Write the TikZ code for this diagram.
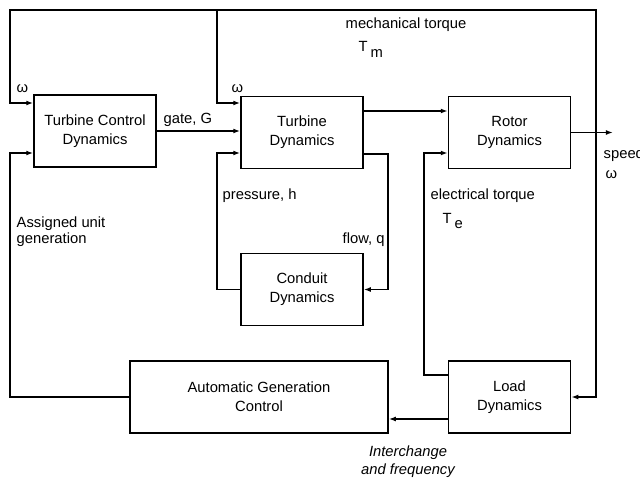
\documentclass[tikz,border=0pt]{standalone}
\usepackage{fontspec}
\setmainfont{Liberation Sans}
\usetikzlibrary{arrows.meta}

\begin{document}
\begin{tikzpicture}[x=0.025cm, y=-0.025cm, line width=1pt,
  font=\fontsize{10.5}{13.5}\selectfont,
  block/.style={draw, rectangle, align=center, minimum width=3.05cm, minimum height=1.8cm, inner sep=2pt},
  sig/.style={-{Latex[length=5pt,width=3.5pt]}},
  lbl/.style={draw=none, fill=none, anchor=base west, inner sep=0pt}]
		\useasboundingbox (0,0) rectangle (640,480);

		% blocks
		\node[block] (tcd) at (95,131) {Turbine Control\\Dynamics};
		\node[block] (td) at (302,132.5) {Turbine\\Dynamics};
		\node[block] (rd) at (509.5,132.5) {Rotor\\Dynamics};
		\node[block] (cd) at (302,289.5) {Conduit\\Dynamics};
		\node[block, minimum width=6.45cm] (agc) at (259,397) {Automatic Generation\\Control};
		\node[block] (ld) at (509.5,397) {Load\\Dynamics};

		% corners
		\coordinate (sp) at (596,132.5);
		\coordinate (spd) at (613,132.5);
		\coordinate (tl) at (10,10);
		\coordinate (tr) at (596,10);
		\coordinate (tm) at (217,10);
		\coordinate (ph) at (217,153);
		\coordinate (fq) at (388,154);
		\coordinate (et) at (424,153);
		\coordinate (au) at (10,153);

		% speed feedback
		\draw[sig] (rd.east) -- (spd);
		\draw[sig] (sp) -- (tr) -- (tl) -- (10,103) -- (tcd.west |- 0,103);
		\draw[sig] (tm) -- (217,103) -- (td.west |- 0,103);
		\draw[sig] (sp) |- (ld.east);

		% forward path
		\draw[sig] (tcd.east) -- (tcd.east -| td.west);
		\draw[sig] (td.east |- 0,111) -- (rd.west |- 0,111);
		\draw[sig] (td.east |- fq) -- (fq) |- (cd.east);
		\draw[sig] (cd.west) -| (ph) -- (td.west |- ph);
		\draw[sig] (ld.west |- 0,375) -| (et) -- (rd.west |- et);
		\draw[sig] (ld.west |- 0,419) -- (agc.east |- 0,419);
		\draw[sig] (agc.west) -| (au) -- (tcd.west |- au);

		% labels
		\node[lbl] (w1) at (16,92) {ω};
		\node[lbl] (w2) at (231,92) {ω};
		\node[lbl] (gate) at (163,123) {gate, G};
		\node[lbl] (mt) at (345,29) {mechanical torque};
		\node[lbl] (tmm) at (358,52) {T\kern2pt\raisebox{-4pt}{m}};
		\node[lbl] (pr) at (222,199) {pressure, h};
		\node[lbl] (fl) at (342,243) {flow, q};
		\node[lbl] (el) at (430,199) {electrical torque};
		\node[lbl] (tee) at (442,223) {T\kern2pt\raisebox{-4pt}{e}};
		\node[lbl] (aug) at (16,227) {Assigned unit};
		\node[lbl] (aug2) at (16,243) {generation};
		\node[lbl] (spl) at (603,158) {speed};
		\node[lbl] (spw) at (605,178) {ω};
		\node[draw=none, fill=none, align=center, anchor=base, inner sep=0pt, font=\fontsize{10.5}{12.6}\selectfont\itshape] (ic) at (408,474) {Interchange\\and frequency};

	\end{tikzpicture}
\end{document}
